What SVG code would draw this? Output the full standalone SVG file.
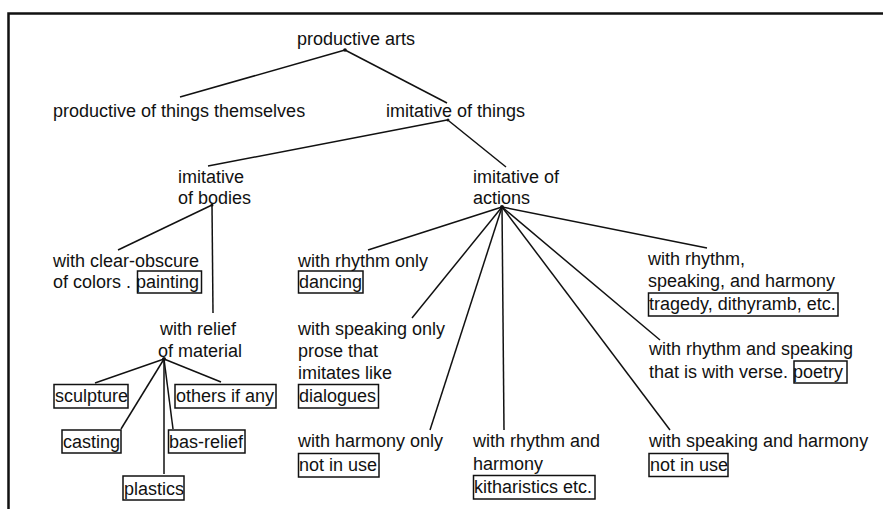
<svg xmlns="http://www.w3.org/2000/svg" width="883" height="509" viewBox="0 0 883 509">
<style>
text{font-family:"Liberation Sans",Arial,sans-serif;font-size:18px;fill:#111}
.box{fill:none;stroke:#111;stroke-width:1.5}
.c line{stroke:#111;stroke-width:1.5}
.knot{fill:#111}
</style>
<rect width="883" height="509" fill="#fff"/>
<path d="M8.5,509 V13.5 H883" fill="none" stroke="#111" stroke-width="2.5"/>
<g class="c" id="connectors">
<line x1="345" y1="50" x2="180" y2="97"/>
<line x1="345" y1="50" x2="447" y2="103"/>
<line x1="447" y1="120" x2="208" y2="166"/>
<line x1="449" y1="121" x2="506" y2="167"/>
<line x1="212" y1="205" x2="118" y2="250"/>
<line x1="212" y1="205" x2="213" y2="313"/>
<line x1="502" y1="207" x2="368" y2="250"/>
<line x1="502" y1="207" x2="412" y2="318"/>
<line x1="502" y1="207" x2="430" y2="430"/>
<line x1="502" y1="207" x2="504" y2="430"/>
<line x1="502" y1="207" x2="670" y2="430"/>
<line x1="502" y1="207" x2="660" y2="340"/>
<line x1="502" y1="207" x2="707" y2="248"/>
<line x1="164" y1="359" x2="95" y2="383"/>
<line x1="164" y1="359" x2="121" y2="429"/>
<line x1="164" y1="359" x2="164" y2="474"/>
<line x1="164" y1="359" x2="173" y2="429"/>
<line x1="164" y1="359" x2="221" y2="382"/>
<circle class="knot" cx="345" cy="50" r="1.8"/>
<circle class="knot" cx="448" cy="120" r="1.5"/>
<circle class="knot" cx="212" cy="205" r="1.5"/>
<circle class="knot" cx="502" cy="207" r="2"/>
<circle class="knot" cx="164" cy="359" r="2"/>
</g>
<g id="n-productive-arts"><text x="297" y="45">productive arts</text></g>
<g id="n-productive-things"><text x="53" y="117">productive of things themselves</text></g>
<g id="n-imitative-things"><text x="386" y="117">imitative of things</text></g>
<g id="n-imitative-bodies"><text x="178" y="183">imitative</text><text x="178" y="204">of bodies</text></g>
<g id="n-imitative-actions"><text x="473" y="183">imitative of</text><text x="473" y="204">actions</text></g>
<g id="n-clear-obscure"><text x="53" y="267">with clear-obscure</text><text x="53" y="288">of colors . painting</text><rect class="box" x="137.5" y="271" width="64" height="22"/></g>
<g id="n-rhythm-only"><text x="298" y="267">with rhythm only</text><text x="299" y="288">dancing</text><rect class="box" x="298.5" y="271" width="64.5" height="22"/></g>
<g id="n-rsh"><text x="648" y="265">with rhythm,</text><text x="648" y="287">speaking, and harmony</text><text x="649" y="310">tragedy, dithyramb, etc.</text><rect class="box" x="648.5" y="293" width="189.5" height="23"/></g>
<g id="n-relief"><text x="160" y="335">with relief</text><text x="158" y="357">of material</text></g>
<g id="n-speaking-only"><text x="298" y="335">with speaking only</text><text x="298" y="357">prose that</text><text x="298" y="379">imitates like</text><text x="299" y="402">dialogues</text><rect class="box" x="298.5" y="384.5" width="80" height="23.5"/></g>
<g id="n-rhythm-speaking"><text x="649" y="355">with rhythm and speaking</text><text x="649" y="378">that is with verse. poetry</text><rect class="box" x="794" y="361" width="53" height="22"/></g>
<g id="n-sculpture"><text x="55" y="402">sculpture</text><rect class="box" x="54" y="384.5" width="74" height="23.5"/></g>
<g id="n-others"><text x="176" y="402">others if any</text><rect class="box" x="175" y="384.5" width="101" height="23.5"/></g>
<g id="n-casting"><text x="63" y="448">casting</text><rect class="box" x="62" y="430" width="59" height="23"/></g>
<g id="n-bas-relief"><text x="169" y="448">bas-relief</text><rect class="box" x="168.5" y="430" width="76.5" height="23"/></g>
<g id="n-plastics"><text x="124" y="495">plastics</text><rect class="box" x="123" y="476" width="61" height="24"/></g>
<g id="n-harmony-only"><text x="298" y="447">with harmony only</text><text x="299" y="471">not in use</text><rect class="box" x="298.5" y="453.5" width="80.5" height="23.5"/></g>
<g id="n-rhythm-harmony"><text x="473" y="447">with rhythm and</text><text x="473" y="470">harmony</text><text x="474" y="493">kitharistics etc.</text><rect class="box" x="473.5" y="475.5" width="121.5" height="23.5"/></g>
<g id="n-speaking-harmony"><text x="649" y="447">with speaking and harmony</text><text x="650" y="471">not in use</text><rect class="box" x="649" y="453.5" width="79" height="23"/></g>
</svg>
